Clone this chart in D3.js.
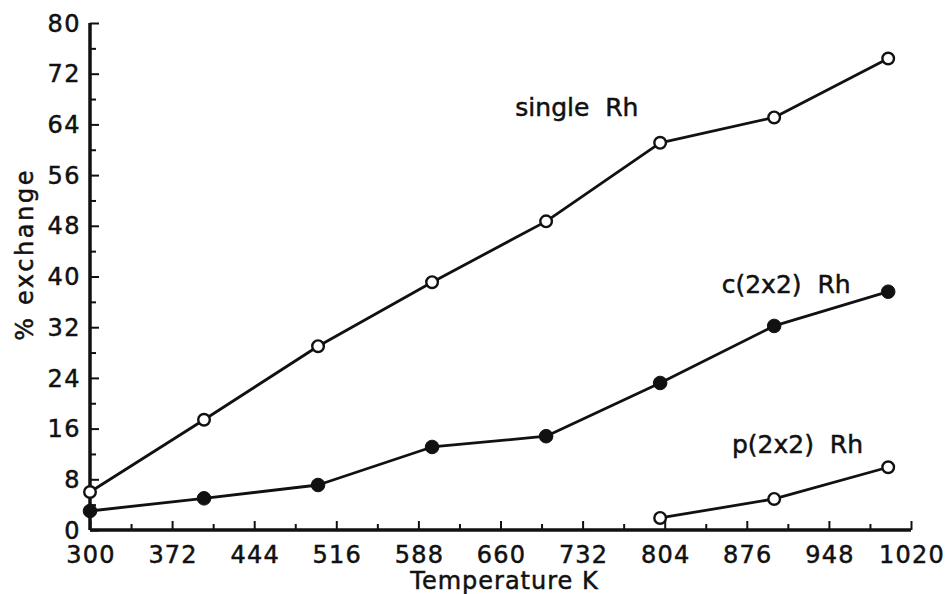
<!DOCTYPE html>
<html>
<head>
<meta charset="utf-8">
<script src="https://cdn.jsdelivr.net/npm/d3@7"></script>
<style>
  html, body { margin: 0; padding: 0; background: #fff; }
  svg text { font-family: "DejaVu Sans", sans-serif; fill: #111; stroke: #111; stroke-width: 0.5px; }
</style>
</head>
<body>
<svg id="chart" width="952" height="594"></svg>
<script>
// Temperature (K) at which each exchange measurement was taken
const temperatures = [300, 400, 500, 600, 700, 800, 900, 1000];

// % exchange for each rhodium surface
const singleRh = [6, 17.4, 29, 39.1, 48.7, 61.1, 65.1, 74.4];
const c2x2Rh   = [3, 5, 7.1, 13.1, 14.8, 23.2, 32.2, 37.6];
const p2x2Temps = [800, 900, 1000];
const p2x2Rh    = [1.9, 4.9, 9.9];

// Axis ticks
const xTickValues = [300, 372, 444, 516, 588, 660, 732, 804, 876, 948, 1020];
const yTickValues = [0, 8, 16, 24, 32, 40, 48, 56, 64, 72, 80];

// Curve labels, anchored in data space
const curveLabels = [
  { text: "single  Rh", t: 673, v: 65.3 },
  { text: "c(2x2)  Rh", t: 854, v: 37.4 },
  { text: "p(2x2)  Rh", t: 863, v: 12.1 }
];

const svg = d3.select("#chart");
const ink = "#111";

const x = d3.scaleLinear().domain([300, 1020]).range([90, 911]);
const y = d3.scaleLinear().domain([0, 80]).range([530, 23]);

// Minor ticks halfway between labelled ones
const xMinor = d3.range(336, 1020, 72);
const yMinor = d3.range(4, 80, 8);

// x axis: ticks point up into the plot
const xAxis = svg.append("g").attr("transform", `translate(0,${y(0)})`);
xAxis.call(d3.axisTop(x).tickValues(xMinor).tickSize(6).tickFormat(""));
xAxis.append("g").call(d3.axisTop(x).tickValues(xTickValues).tickSize(9).tickFormat(""));
xAxis.selectAll(".domain").attr("stroke", ink).attr("stroke-width", 3).attr("d", `M${x(300)},0H${x(1020)}`);
xAxis.selectAll(".tick line").attr("stroke", ink).attr("stroke-width", 2);
xAxis.selectAll(".xl").data(xTickValues).join("text")
  .attr("x", d => x(d) + 1).attr("y", 33)
  .attr("text-anchor", "middle")
  .attr("font-size", 24)
  .attr("letter-spacing", 1.2)
  .text(d => d);

// y axis: ticks point right into the plot
const yAxis = svg.append("g").attr("transform", `translate(${x(300)},0)`);
yAxis.call(d3.axisRight(y).tickValues(yMinor).tickSize(6).tickFormat(""));
yAxis.append("g").call(d3.axisRight(y).tickValues(yTickValues).tickSize(9).tickFormat(""));
yAxis.selectAll(".domain").attr("stroke", ink).attr("stroke-width", 3).attr("d", `M0,${y(0)}V${y(80)}`);
yAxis.selectAll(".tick line").attr("stroke", ink).attr("stroke-width", 2);
yAxis.selectAll(".yl").data(yTickValues).join("text")
  .attr("x", -9).attr("y", d => y(d))
  .attr("dy", "0.36em")
  .attr("text-anchor", "end")
  .attr("font-size", 24)
  .attr("letter-spacing", 1.5)
  .text(d => d);

// Axis titles
svg.append("text")
  .attr("x", (x(300) + x(1020)) / 2 + 4).attr("y", 589)
  .attr("text-anchor", "middle")
  .attr("font-size", 24)
  .attr("letter-spacing", 1)
  .text("Temperature K");

svg.append("text")
  .attr("transform", `translate(33,${y(43.5)}) rotate(-90)`)
  .attr("text-anchor", "middle")
  .attr("font-size", 24)
  .attr("letter-spacing", 2.6)
  .text("% exchange");

// Series
const series = [
  { temps: temperatures, vals: singleRh, filled: false },
  { temps: temperatures, vals: c2x2Rh,   filled: true },
  { temps: p2x2Temps,    vals: p2x2Rh,   filled: false }
];

const line = d3.line().x(d => x(d[0])).y(d => y(d[1]));

series.forEach(s => {
  const pts = s.temps.map((t, i) => [t, s.vals[i]]);
  svg.append("path")
    .attr("d", line(pts))
    .attr("fill", "none")
    .attr("stroke", ink)
    .attr("stroke-width", 2.8)
    .attr("stroke-linejoin", "round");
  svg.append("g").selectAll("circle").data(pts).join("circle")
    .attr("cx", d => x(d[0]))
    .attr("cy", d => y(d[1]))
    .attr("r", s.filled ? 6.8 : 5.8)
    .attr("fill", s.filled ? ink : "#fff")
    .attr("stroke", ink)
    .attr("stroke-width", s.filled ? 1 : 2.4);
});

// Curve labels
svg.selectAll(".curve-label").data(curveLabels).join("text")
  .attr("x", d => x(d.t))
  .attr("y", d => y(d.v))
  .attr("font-size", 25)
  .attr("xml:space", "preserve")
  .style("white-space", "pre")
  .text(d => d.text);
</script>
</body>
</html>
